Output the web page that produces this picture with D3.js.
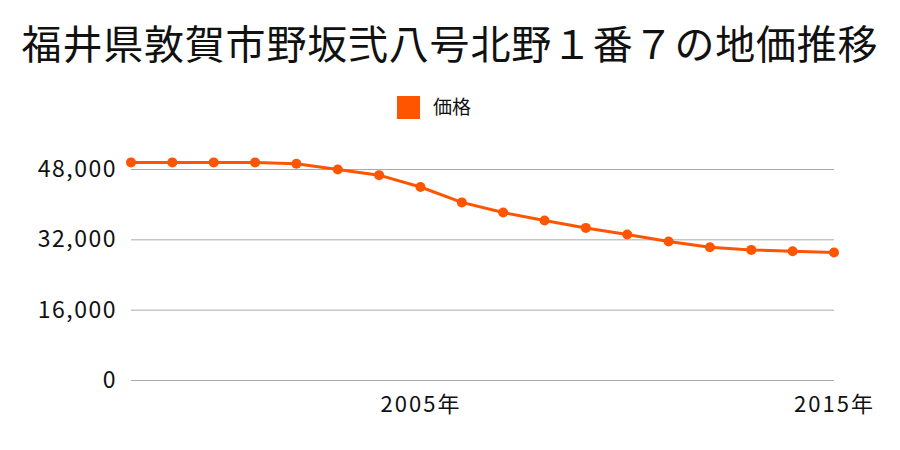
<!DOCTYPE html>
<html>
<head>
<meta charset="utf-8">
<script src="https://cdn.jsdelivr.net/npm/d3@7"></script>
<style>
  body { margin: 0; background: #fff; }
  text { font-family: "Noto Sans CJK JP", "Noto Sans", sans-serif; }
</style>
</head>
<body>
<svg id="chart" width="900" height="450"></svg>
<script>
const title = '福井県敦賀市野坂弐八号北野１番７の地価推移';
const seriesName = '価格';
const years = [1998, 1999, 2000, 2001, 2002, 2003, 2004, 2005, 2006, 2007, 2008, 2009, 2010, 2011, 2012, 2013, 2014, 2015];
const prices = [49500, 49500, 49500, 49500, 49200, 47900, 46600, 43900, 40400, 38100, 36300, 34600, 33100, 31500, 30200, 29600, 29300, 29000];
const yTicks = [0, 16000, 32000, 48000];
const xTicks = [2005, 2015];

const svg = d3.select('#chart');
const margin = { top: 169, right: 66, bottom: 70, left: 131 };
const width = 900 - margin.left - margin.right;
const height = 450 - margin.top - margin.bottom;
const color = '#ff5500';

const x = d3.scaleLinear()
  .domain([1998, 2015])
  .range([0, width]);

const y = d3.scaleLinear()
  .domain([0, 48000])
  .range([height, 0]);

// Title
svg.append('text')
  .attr('x', 450)
  .attr('y', 59)
  .attr('text-anchor', 'middle')
  .attr('font-size', '40px')
  .attr('letter-spacing', '0.8px')
  .attr('fill', '#111')
  .text(title);

// Legend
svg.append('rect')
  .attr('x', 397)
  .attr('y', 96)
  .attr('width', 23)
  .attr('height', 23)
  .attr('fill', color);
svg.append('text')
  .attr('x', 433)
  .attr('y', 114)
  .attr('font-size', '19px')
  .attr('fill', '#111')
  .text(seriesName);

const g = svg.append('g')
  .attr('transform', `translate(${margin.left},${margin.top})`);

// Grid + y labels
g.append('g')
  .call(d3.axisLeft(y).tickValues(yTicks).tickSize(-width).tickPadding(14)
    .tickFormat(d3.format(',')))
  .call(s => s.select('.domain').remove())
  .call(s => s.selectAll('line').attr('stroke', '#aaa').attr('stroke-width', 1))
  .call(s => s.selectAll('text').attr('font-size', '23px').attr('fill', '#111')
    .attr('letter-spacing', '1.5px')
    .attr('font-family', '"Noto Sans", sans-serif'));

// X labels
g.append('g')
  .attr('transform', `translate(0,${height})`)
  .call(d3.axisBottom(x).tickValues(xTicks).tickSize(0).tickPadding(16)
    .tickFormat(d => d + '年'))
  .call(s => s.select('.domain').remove())
  .call(s => s.selectAll('text').attr('font-size', '22px').attr('fill', '#111')
    .attr('letter-spacing', '2px'));

const line = d3.line()
  .x((d, i) => x(years[i]))
  .y(d => y(d));

g.append('path')
  .datum(prices)
  .attr('fill', 'none')
  .attr('stroke', color)
  .attr('stroke-width', 3)
  .attr('d', line);

g.append('g')
  .selectAll('circle')
  .data(prices)
  .join('circle')
  .attr('cx', (d, i) => x(years[i]))
  .attr('cy', d => y(d))
  .attr('r', 5)
  .attr('fill', color);
</script>
</body>
</html>
